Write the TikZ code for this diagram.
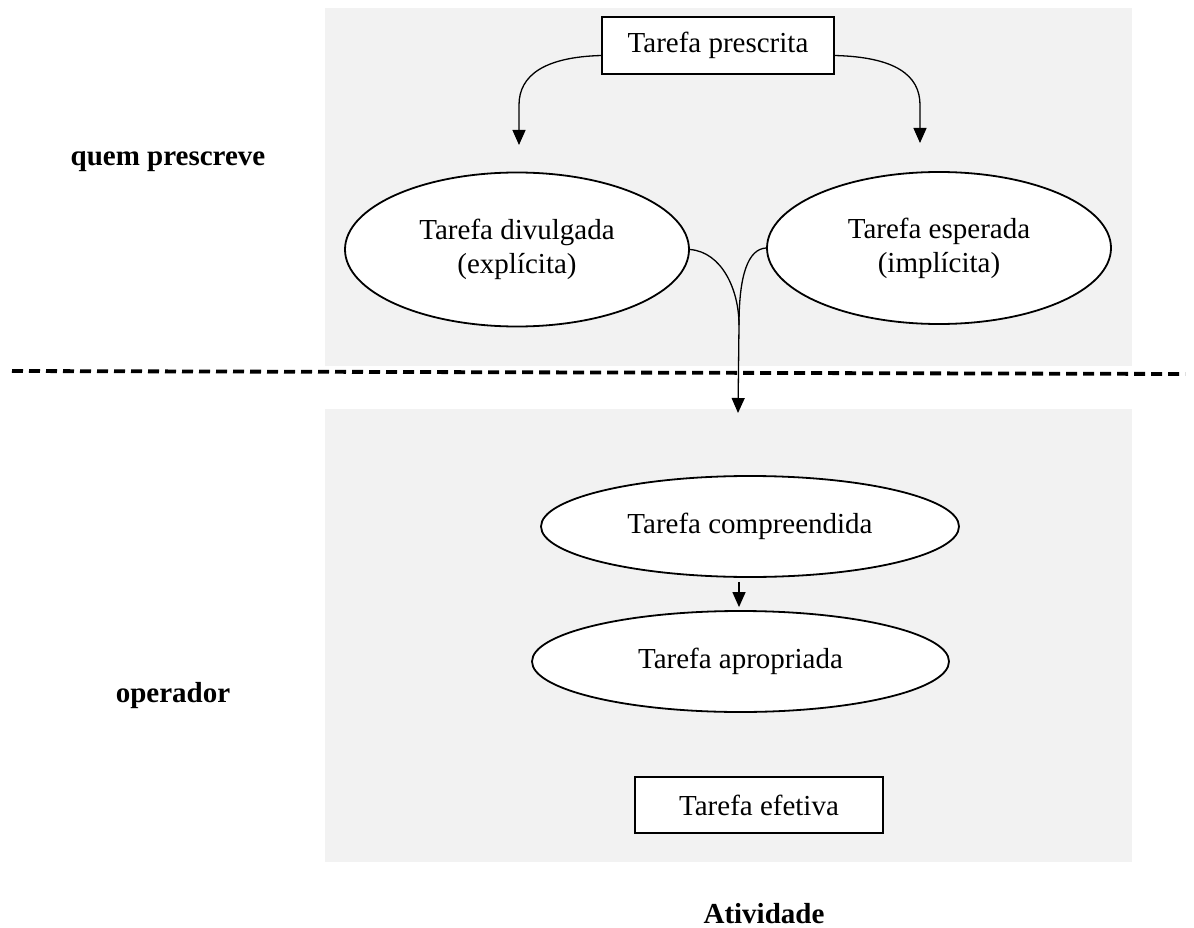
\documentclass[tikz,border=0pt]{standalone}
\usepackage{fontspec}
\setmainfont{Liberation Serif}
\usetikzlibrary{shapes.geometric,arrows.meta}
\definecolor{panel}{HTML}{F2F2F2}
\begin{document}
\begin{tikzpicture}[x=1pt,y=-1pt,
  panelbox/.style={fill=panel,draw=none},
  txt/.style={font=\fontsize{29}{34}\selectfont},
  ell/.style={ellipse,draw,line width=1.8pt,fill=white,inner sep=0pt,align=center,txt},
  rectbox/.style={rectangle,draw,line width=1.3pt,fill=white,inner sep=0pt,txt},
  conn/.style={line width=1.3pt},
  tip/.style={-{Triangle[length=15pt,width=13pt]}},
  lbl/.style={font=\bfseries\fontsize{29}{33}\selectfont},
  divider/.style={line width=3.8pt,dash pattern=on 11pt off 6pt}
]
\useasboundingbox (0,0) rectangle (1194,928);
\fill[panelbox] (325,8) rectangle (1132,366);
\fill[panelbox] (325,409) rectangle (1132,862);
\draw[divider] (12,371) -- (1185,374);

\node[rectbox,minimum width=232pt,minimum height=57pt] (presc) at (718,45.5) {Tarefa prescrita};
\node[ell,minimum width=344pt,minimum height=154pt] (div) at (517,249.5) {Tarefa divulgada\\(explícita)};
\node[ell,minimum width=344pt,minimum height=152pt] (esp) at (939,248) {Tarefa esperada\\(implícita)};
\node[ell,minimum width=418pt,minimum height=101pt] (comp) at (750,526.5) {Tarefa compreendida};
\node[ell,minimum width=417pt,minimum height=101pt] (apro) at (740.5,661.5) {Tarefa apropriada};
\node[rectbox,minimum width=248pt,minimum height=56pt] (efet) at (759,805) {Tarefa efetiva};

\node[lbl] (lq) at (168,162) {quem prescreve};
\node[lbl] (lo) at (173,696) {operador};
\node[lbl] (la) at (764,914) {Atividade};

\coordinate (tl) at (519,145);
\coordinate (tr) at (920,143);
\coordinate (m) at (739,325);
\coordinate (tm) at (738,413);

\draw[conn,tip] ([yshift=-10pt]presc.west) .. controls (545,57) and (519,75) .. (519,105) -- (tl);
\draw[conn,tip] ([yshift=-10pt]presc.east) .. controls (895,57) and (920,75) .. (920,105) -- (tr);
\draw[conn] (div.east) .. controls (722,252) and (739,290) .. (m);
\draw[conn] (esp.west) .. controls (748,249) and (739,275) .. (m);
\draw[conn,tip] (m) -- (tm);
\draw[conn,tip] ([yshift=-4pt]comp.south -| 739,0) -- ([yshift=3pt]apro.north -| 739,0);
\end{tikzpicture}
\end{document}
